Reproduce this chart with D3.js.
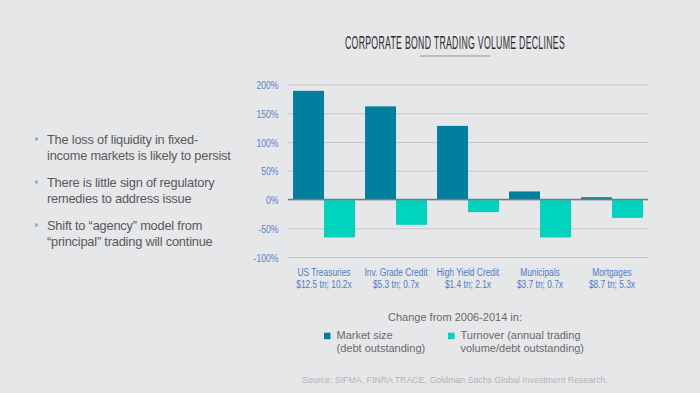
<!DOCTYPE html>
<html><head><meta charset="utf-8">
<script src="https://cdn.jsdelivr.net/npm/d3@7"></script>
<style>
html,body{margin:0;padding:0;background:#e6e7e9;}
svg{display:block;}
text{font-family:"Liberation Sans",Arial,Helvetica,sans-serif;}
</style></head>
<body>
<svg id="c" width="700" height="393"></svg>
<script>
const categories = ["US Treasuries","Inv. Grade Credit","High Yield Credit","Municipals","Mortgages"];
const subLabels = ["$12.5 tn; 10.2x","$5.3 tn; 0.7x","$1.4 tn; 2.1x","$3.7 tn; 0.7x","$8.7 tn; 5.3x"];
const marketSize = [189, 162, 128, 14, 4];
const turnover = [-66, -44, -22, -66, -32];
const yTicks = [200,150,100,50,0,-50,-100];
const seriesNames = ["Market size","Turnover"];
const legendLabels = [["Market size","(debt outstanding)"],["Turnover (annual trading","volume/debt outstanding)"]];
const bullets = [
  ["The loss of liquidity in fixed-","income markets is likely to persist"],
  ["There is little sign of regulatory","remedies to address issue"],
  ["Shift to \u201cagency\u201d model from","\u201cprincipal\u201d trading will continue"]
];
const colors = {market:"#007f9e", turnover:"#00d4be"};
const COND = 0.73;

const svg = d3.select("#c");
const W=700,H=393;
svg.append("rect").attr("width",W).attr("height",H).attr("fill","#e6e7e9");

// condensed text helper
function condText(parent, x, yy, str, size, fill, anchor, k){
  return parent.append("text")
    .attr("transform",`translate(${x},${yy}) scale(${k||COND},1)`)
    .attr("text-anchor",anchor||"middle").attr("font-size",size).attr("fill",fill).text(str);
}

// Title
condText(svg, 455, 48.5, "CORPORATE BOND TRADING VOLUME DECLINES", 18, "#2e2e30", "middle", 0.485)
  .attr("letter-spacing",0.6);
svg.append("line").attr("x1",420).attr("x2",490).attr("y1",56).attr("y2",56)
  .attr("stroke","#a9abae").attr("stroke-width",1.5);

// Scales
const x0 = d3.scaleBand().domain(categories).range([288,648]).paddingInner(0.14).paddingOuter(0.07);
const x1 = d3.scaleBand().domain(seriesNames).range([0,x0.bandwidth()]);
const y = d3.scaleLinear().domain([-100,200]).range([257,84.5]);

// Grid + y labels
const yAxis = d3.axisLeft(y).tickValues(yTicks).tickFormat(d=>d+"%").tickSize(-360);
const ga = svg.append("g").attr("transform","translate(288,0)").call(yAxis);
ga.select(".domain").remove();
ga.selectAll(".tick line").attr("stroke","#c6c7ca").attr("stroke-width",1.2);
ga.selectAll(".tick text").remove();
ga.selectAll(".tick").each(function(d){
  condText(d3.select(this), -9.5, 4, d+"%", 11.8, "#5b82c8", "end");
});

// Bars
const g = svg.append("g");
categories.forEach((c,i)=>{
  const vals=[marketSize[i],turnover[i]];
  vals.forEach((v,j)=>{
    g.append("rect")
      .attr("x",x0(c)+x1(seriesNames[j]))
      .attr("width",x1.bandwidth())
      .attr("y",y(Math.max(0,v)))
      .attr("height",Math.abs(y(v)-y(0)))
      .attr("fill",j===0?colors.market:colors.turnover);
  });
});
// zero line
svg.append("line").attr("x1",288).attr("x2",648).attr("y1",y(0)).attr("y2",y(0))
  .attr("stroke","#7c7d80").attr("stroke-width",1.3);

// Category labels
categories.forEach((c,i)=>{
  const cx=x0(c)+x0.bandwidth()/2;
  condText(svg, cx, 276, c, 11.5, "#4d7cc7");
  condText(svg, cx, 287.5, subLabels[i], 11.5, "#4d7cc7");
});

// Change from
svg.append("text").attr("x",455).attr("y",320.5).attr("text-anchor","middle")
  .attr("font-size",11).attr("fill","#68696b").text("Change from 2006-2014 in:");

// Legend
const legX=[324,448];
seriesNames.forEach((s,i)=>{
  svg.append("rect").attr("x",legX[i]).attr("y",332.7).attr("width",6.5).attr("height",6.5)
    .attr("fill",i===0?colors.market:colors.turnover);
  const t=svg.append("text").attr("font-size",11).attr("fill","#68696b");
  t.append("tspan").attr("x",legX[i]+12.5).attr("y",339).text(legendLabels[i][0]);
  t.append("tspan").attr("x",legX[i]+12.5).attr("y",351.5).text(legendLabels[i][1]);
});

// Source
svg.append("text").attr("x",302).attr("y",382.5).attr("font-size",8.8)
  .attr("fill","#b3b4b7").text("Source: SIFMA, FINRA TRACE, Goldman Sachs Global Investment Research.");

// Bullets
const by=[144,187,230];
bullets.forEach((b,i)=>{
  svg.append("rect").attr("x",35).attr("y",by[i]-6.5).attr("width",3).attr("height",3).attr("fill","#8ea9d6");
  const t=svg.append("text").attr("font-size",12.8).attr("letter-spacing",-0.2).attr("fill","#58595b");
  t.append("tspan").attr("x",47).attr("y",by[i]).text(b[0]);
  t.append("tspan").attr("x",47).attr("y",by[i]+16.3).text(b[1]);
});
</script>
</body></html>
